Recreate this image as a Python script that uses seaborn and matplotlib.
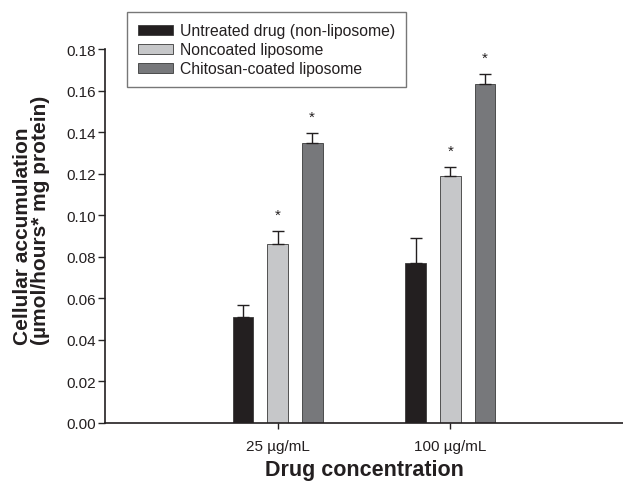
import matplotlib
matplotlib.use("Agg")
import matplotlib.pyplot as plt
import seaborn as sns
import pandas as pd
import numpy as np

concentrations = ["25 µg/mL", "100 µg/mL"]
groups = ["Untreated drug (non-liposome)", "Noncoated liposome", "Chitosan-coated liposome"]
untreated = [0.051, 0.077]
noncoated = [0.086, 0.119]
coated = [0.135, 0.163]
untreated_err = [0.0056, 0.0122]
noncoated_err = [0.0062, 0.0042]
coated_err = [0.0046, 0.0050]
significant = [[False, False], [True, True], [True, True]]
colors = ["#231f20", "#c6c7c9", "#77787b"]
yticks = [0.00, 0.02, 0.04, 0.06, 0.08, 0.10, 0.12, 0.14, 0.16, 0.18]

sns.set_theme(style="white")
plt.rcParams["font.family"] = ["Liberation Sans", "DejaVu Sans"]

values = [untreated, noncoated, coated]
errs = [untreated_err, noncoated_err, coated_err]
df = pd.DataFrame({
    "conc": [c for g in groups for c in concentrations],
    "group": [g for g in groups for c in concentrations],
    "value": [v for vals in values for v in vals],
})

fig = plt.figure(figsize=(6.23, 4.85), dpi=100)
ax = fig.add_axes([105/623, 1 - 424/485, 1 - 105/623, (424 - 50)/485])

sns.barplot(data=df, x="conc", y="value", hue="group", order=concentrations,
            hue_order=groups, palette=colors, width=0.6, gap=0.4,
            errorbar=None, edgecolor="#3a3a3a", linewidth=0.6, ax=ax, saturation=1)

bar_containers = list(ax.containers)
# error bars and significance stars
for gi, cont in enumerate(bar_containers):
    for ci, patch in enumerate(cont.patches):
        xc = patch.get_x() + patch.get_width() / 2
        h = patch.get_height()
        e = errs[gi][ci]
        ax.errorbar([xc], [h], yerr=[[0], [e]], fmt="none", ecolor="#231f20",
                    elinewidth=1.0, capsize=4.5, capthick=1.0, zorder=3)
        if significant[gi][ci]:
            ax.text(xc, h + e + 0.008, "*", ha="center", va="center",
                    fontsize=11, color="#231f20")

ax.set_xlim(-1, 2)
ax.set_ylim(0, 0.18)
ax.set_yticks(yticks)
ax.set_yticklabels([f"{t:.2f}" for t in yticks], fontsize=11, color="#231f20")
ax.tick_params(axis="x", labelsize=11, colors="#231f20", length=4, width=1, direction="out", bottom=True, pad=7.5)
ax.tick_params(axis="y", length=5, width=1, direction="out", left=True, pad=1.5)
for s in ["top", "right"]:
    ax.spines[s].set_visible(False)
for s in ["left", "bottom"]:
    ax.spines[s].set_color("#231f20")
    ax.spines[s].set_linewidth(1.2)

ax.set_xlabel("Drug concentration", fontsize=15.5, fontweight="bold", color="#231f20")
ax.xaxis.set_label_coords(0.5, -0.097)
ax.set_ylabel("Cellular accumulation\n(µmol/hours* mg protein)", fontsize=15,
              fontweight="bold", color="#231f20", linespacing=0.95, multialignment="left")
ax.yaxis.set_label_coords(-0.106, 0.545)

ax.legend_.remove()
handles = [plt.Rectangle((0, 0), 1, 1, facecolor=c, edgecolor="#3a3a3a", linewidth=0.6) for c in colors]
leg = fig.legend(handles, groups, loc="upper left", bbox_to_anchor=(127/623, 1 - 13/485),
                 fontsize=11.3, frameon=True, fancybox=False, edgecolor="#555555",
                 handlelength=2.2, handleheight=0.6, labelspacing=0.25,
                 borderpad=0.72, handletextpad=0.45, borderaxespad=0)
leg.get_frame().set_linewidth(1.0)
for t in leg.get_texts():
    t.set_color("#231f20")

fig.savefig("out.png", dpi=100)
